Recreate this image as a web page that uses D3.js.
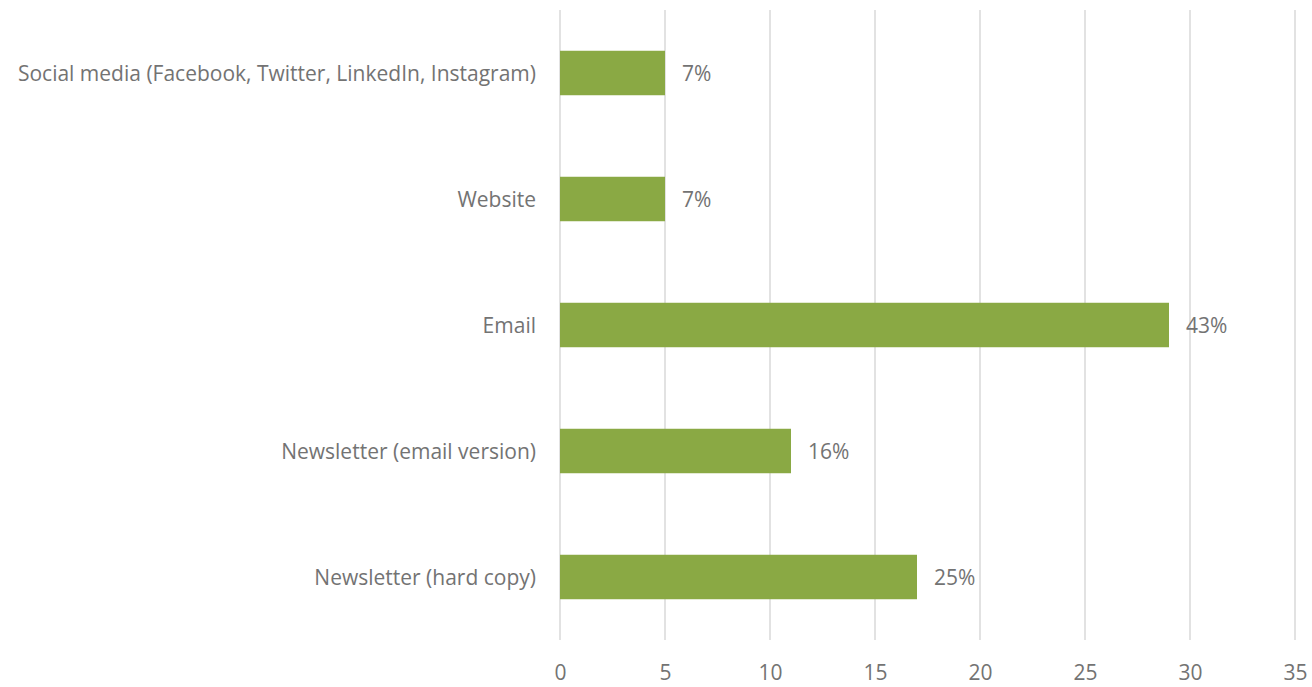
<!DOCTYPE html>
<html>
<head>
<meta charset="utf-8">
<script src="https://cdn.jsdelivr.net/npm/d3@7"></script>
<style>
  html, body { margin: 0; padding: 0; background: #fff; }
  svg text { font-family: "Open Sans", "Noto Sans", sans-serif; fill: #737373; }
</style>
</head>
<body>
<svg id="chart" width="1312" height="687"></svg>
<script>
// Communication channels, top to bottom
const categories = [
  "Social media (Facebook, Twitter, LinkedIn, Instagram)",
  "Website",
  "Email",
  "Newsletter (email version)",
  "Newsletter (hard copy)"
];
// Response counts per channel
const counts = [5, 5, 29, 11, 17];
// Share of responses shown beside each bar
const shares = ["7%", "7%", "43%", "16%", "25%"];
const xTicks = [0, 5, 10, 15, 20, 25, 30, 35];

const margin = { top: 10, left: 560, right: 17, bottom: 47 };
const width = 1312, height = 687;
const fontSize = "21px";
const svg = d3.select("#chart");

const x = d3.scaleLinear().domain([0, 35]).range([margin.left, width - margin.right]);
const y = d3.scaleBand().domain(categories)
  .range([margin.top, height - margin.bottom])
  .paddingInner(0.647).paddingOuter(0.3235);

// vertical gridlines
svg.append("g")
  .selectAll("line").data(xTicks).join("line")
  .attr("x1", d => x(d)).attr("x2", d => x(d))
  .attr("y1", margin.top).attr("y2", height - margin.bottom)
  .attr("stroke", "#d9d9d9").attr("stroke-width", 1.5);

// x-axis tick labels
const xAxis = d3.axisBottom(x).tickValues(xTicks).tickSize(0).tickPadding(0);
const gx = svg.append("g")
  .attr("transform", `translate(0,${height - margin.bottom})`)
  .call(xAxis);
gx.select(".domain").remove();
gx.selectAll("text")
  .attr("dy", null)
  .attr("y", 32)
  .attr("dominant-baseline", "central")
  .style("font-size", fontSize)
  .attr("fill", "#737373");

// category labels
const yAxis = d3.axisLeft(y).tickSize(0).tickPadding(24);
const gy = svg.append("g")
  .attr("transform", `translate(${margin.left},0)`)
  .call(yAxis);
gy.select(".domain").remove();
gy.selectAll("text")
  .attr("dy", null)
  .attr("dominant-baseline", "central")
  .style("font-size", fontSize)
  .attr("fill", "#737373");

// bars
svg.append("g")
  .selectAll("rect").data(categories).join("rect")
  .attr("x", x(0))
  .attr("y", d => y(d))
  .attr("width", (d, i) => x(counts[i]) - x(0))
  .attr("height", y.bandwidth())
  .attr("fill", "#8aa944");

// value labels
svg.append("g")
  .selectAll("text").data(categories).join("text")
  .attr("x", (d, i) => x(counts[i]) + 17)
  .attr("y", d => y(d) + y.bandwidth() / 2)
  .attr("dominant-baseline", "central")
  .style("font-size", fontSize)
  .text((d, i) => shares[i]);
</script>
</body>
</html>
